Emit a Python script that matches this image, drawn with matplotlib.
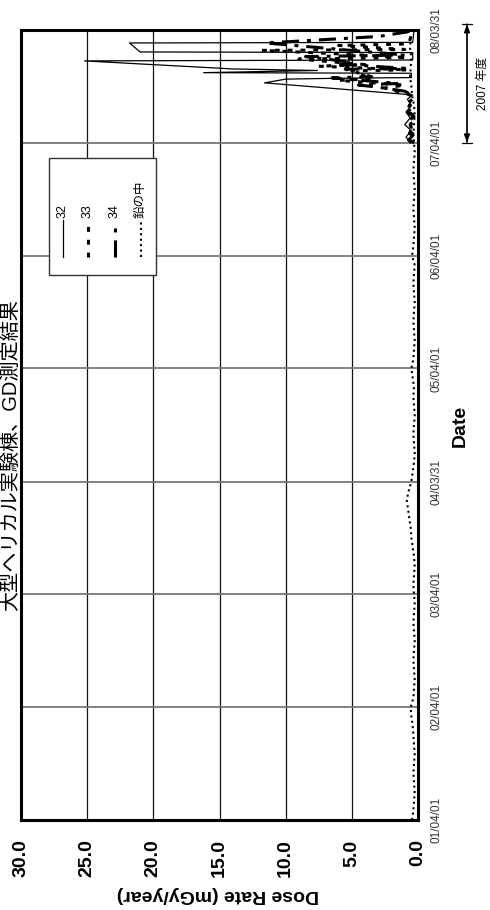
import matplotlib
matplotlib.use("Agg")
import matplotlib.pyplot as plt
import matplotlib.dates as mdates
import matplotlib.transforms as mtransforms
from matplotlib.lines import Line2D
from matplotlib.patches import Rectangle
import pandas as pd

plt.rcParams['font.family'] = ['Liberation Sans', 'Noto Sans CJK JP', 'DejaVu Sans']

# ---------------- data ----------------
title = "大型ヘリカル実験棟、GD測定結果"
dose_label = "Dose Rate (mGy/year)"
date_label = "Date"
fy_label = "2007 年度"

dose_ticks = [0, 5, 10, 15, 20, 25, 30]
dose_tick_labels = ["0.0", "5.0", "10.0", "15.0", "20.0", "25.0", "30.0"]
date_ticks = ["2001-04-01", "2002-04-01", "2003-04-01", "2004-03-31",
              "2005-04-01", "2006-04-01", "2007-04-01", "2008-03-31"]
date_tick_labels = ["01/04/01", "02/04/01", "03/04/01", "04/03/31",
                    "05/04/01", "06/04/01", "07/04/01", "08/03/31"]
series_names = ["32", "33", "34", "鉛の中"]

s32_dates = ["2007-04-01", "2007-04-20", "2007-05-10", "2007-05-30", "2007-06-20",
             "2007-07-10", "2007-07-30", "2007-08-20", "2007-09-03", "2007-10-12",
             "2007-10-24", "2007-10-27", "2007-10-29", "2007-11-12", "2007-11-14",
             "2007-11-21", "2007-11-26", "2007-12-22", "2007-12-25", "2008-01-18",
             "2008-01-20", "2008-02-18", "2008-02-20", "2008-03-31"]
s32_vals = [0.6, 0.9, 0.5, 1.0, 0.6, 0.9, 0.5, 0.8, 0.4, 11.6,
            10.0, 5.9, 0.5, 0.5, 16.2, 7.6, 14.0, 25.2, 0.4, 0.4,
            21.0, 21.8, 0.4, 0.3]

s33_dates = ["2007-04-01", "2007-04-15", "2007-05-01", "2007-05-15", "2007-06-01",
             "2007-06-15", "2007-07-01", "2007-07-15", "2007-08-01", "2007-08-15",
             "2007-09-03", "2007-09-25", "2007-10-05", "2007-10-20", "2007-10-25",
             "2007-11-20", "2007-11-23", "2007-12-05", "2007-12-10", "2007-12-28",
             "2008-01-02", "2008-01-15", "2008-01-25", "2008-01-28", "2008-02-10",
             "2008-02-15", "2008-03-31"]
s33_vals = [0.5, 0.8, 0.4, 0.9, 0.5, 0.7, 0.4, 0.9, 0.6, 0.8,
            0.6, 2.5, 1.0, 6.0, 3.5, 5.0, 0.8, 7.5, 4.0, 9.0,
            0.8, 6.5, 11.8, 1.0, 6.0, 0.7, 0.4]

s34_dates = ["2007-04-01", "2007-04-10", "2007-04-25", "2007-05-08", "2007-05-22",
             "2007-06-08", "2007-06-25", "2007-07-08", "2007-07-22", "2007-08-08",
             "2007-08-22", "2007-09-03", "2007-09-15", "2007-09-28", "2007-10-05",
             "2007-10-10", "2007-10-28", "2007-11-01", "2007-11-25", "2007-11-28",
             "2007-12-12", "2007-12-18", "2008-01-05", "2008-01-10", "2008-02-18",
             "2008-03-10", "2008-03-25", "2008-03-31"]
s34_vals = [0.3, 0.7, 0.4, 0.9, 0.5, 0.8, 0.3, 0.8, 0.5, 0.7,
            0.4, 0.5, 1.0, 3.0, 4.5, 1.5, 6.5, 3.5, 5.5, 1.0,
            6.0, 5.0, 8.5, 1.0, 11.5, 3.0, 0.8, 0.4]

lead_start = "2001-04-01"
lead_vals = [0.45, 0.35, 0.3, 0.25, 0.3, 0.35, 0.3, 0.25, 0.3,
             0.35, 0.4, 0.5, 0.55, 0.35, 0.3, 0.25, 0.3, 0.35, 0.3, 0.25, 0.3,
             0.35, 0.3, 0.25, 0.3, 0.35, 0.3, 0.25, 0.3, 0.4, 0.5, 0.55, 0.65,
             0.75, 0.85, 0.7, 0.5, 0.4, 0.3, 0.25, 0.3, 0.35, 0.3, 0.25, 0.3,
             0.35, 0.3, 0.4, 0.5, 0.35, 0.3, 0.25, 0.3, 0.35, 0.3, 0.25, 0.3,
             0.35, 0.3, 0.25, 0.45, 0.35, 0.3, 0.25, 0.3, 0.35, 0.3, 0.25, 0.3,
             0.35, 0.3, 0.25, 0.3, 0.35, 0.3, 0.25, 0.3, 0.45, 0.5, 0.6, 0.55,
             0.5, 0.6, 0.55]
lead_dates = pd.date_range(lead_start, periods=len(lead_vals), freq="MS")

# ---------------- styles ----------------
W, H = 490, 910
styles = {
    "32": dict(color="black", lw=0.9, ls="-"),
    "33": dict(color="black", lw=2.2, ls=(0, (1.6, 2.6))),
    "34": dict(color="black", lw=2.2, ls=(0, (5.6, 2.6, 1.3, 2.6))),
    "鉛の中": dict(color="black", lw=1.5, ls=(0, (1.0, 1.6))),
}

fig = plt.figure(figsize=(W / 100, H / 100), dpi=100)
fig.patch.set_facecolor("white")
ax = fig.add_axes([21 / W, 1 - 820 / H, 397 / W, 790 / H])

def d(s):
    return mdates.date2num(pd.Timestamp(s))

ax.plot(lead_vals, mdates.date2num(lead_dates), **styles["鉛の中"])
ax.plot(s34_vals, [d(s) for s in s34_dates], **styles["34"])
ax.plot(s33_vals, [d(s) for s in s33_dates], **styles["33"])
ax.plot(s32_vals, [d(s) for s in s32_dates], **styles["32"])

ax.set_xlim(30, 0)
ax.set_ylim(d(date_ticks[0]), d(date_ticks[-1]))

ax.set_xticks(dose_ticks)
ax.set_xticklabels(dose_tick_labels, rotation=90, fontsize=14, fontweight="bold",
                   va="top", ha="center")
ax.set_yticks([d(s) for s in date_ticks])
ax.yaxis.tick_right()
ax.set_yticklabels(date_tick_labels, rotation=90, fontsize=8.5, color="#333333",
                   va="center", ha="left")
ax.tick_params(axis="x", length=0, pad=14)
ax.tick_params(axis="y", length=0, pad=9)

ax.xaxis.grid(True, color="#111111", lw=0.9)
ax.yaxis.grid(True, color="#777777", lw=1.3)
ax.set_axisbelow(True)
for sp in ax.spines.values():
    sp.set_linewidth(2.2)
    sp.set_color("black")

# axis titles
fig.text(218 / W, 1 - 895 / H, dose_label, rotation=180, fontsize=14,
         fontweight="bold", ha="center", va="center")
fig.text(460 / W, 1 - 426 / H, date_label, rotation=90, fontsize=14,
         fontweight="bold", ha="center", va="center")
fig.text(10 / W, 1 - 455 / H, title, rotation=90, fontsize=14.5,
         ha="center", va="center")

# fiscal year arrow
trans = mtransforms.blended_transform_factory(fig.transFigure, ax.transData)
top_off = mtransforms.offset_copy(trans, fig=fig, x=0, y=6, units="dots")
ax_x = 467 / W
ax.annotate("", xy=(ax_x, d(date_ticks[-1])), xycoords=top_off,
            xytext=(ax_x, d("2007-04-01")), textcoords=trans,
            arrowprops=dict(arrowstyle="<|-|>,head_length=0.5,head_width=0.18",
                            color="black", lw=0.9, shrinkA=0, shrinkB=0),
            annotation_clip=False)
ax.annotate("", xy=(ax_x, d(date_ticks[-1])), xycoords=top_off,
            xytext=(ax_x, d("2007-04-01")), textcoords=trans,
            arrowprops=dict(arrowstyle="|-|,widthA=0.35,widthB=0.35",
                            color="black", lw=0.9, shrinkA=0, shrinkB=0),
            annotation_clip=False)
fig.text(483 / W, 1 - 83 / H, fy_label, rotation=90, fontsize=8.5,
         ha="center", va="center")

# legend (drawn rotated, as in the reference)
fig.add_artist(Rectangle((49 / W, 1 - 275 / H), 107 / W, 117 / H,
                         transform=fig.transFigure, facecolor="white",
                         edgecolor="#333333", lw=1.0, zorder=3))
leg_x = [63, 88, 115, 141]
for name, lx in zip(series_names, leg_x):
    fig.add_artist(Line2D([lx / W, lx / W], [1 - 257 / H, 1 - 220 / H],
                          transform=fig.transFigure, zorder=4, **styles[name]))
    fig.text(lx / W, 1 - 218 / H, name, rotation=90, fontsize=9,
             ha="center", va="bottom", zorder=5)

fig.savefig("out.png", dpi=100, facecolor="white")
